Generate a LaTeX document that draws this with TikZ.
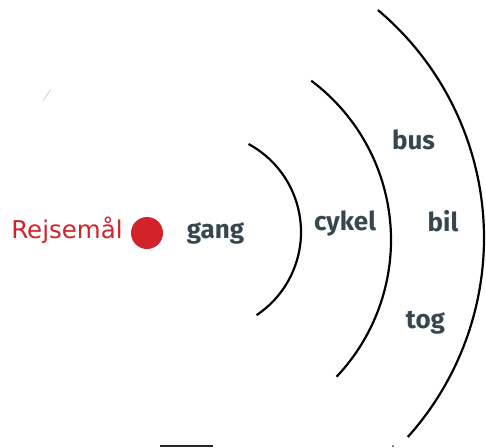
\documentclass[tikz,border=0pt]{standalone}
\usepackage{fontspec}
\setmainfont{Fira Sans}
\newfontfamily\destfont{DejaVu Sans}
\usetikzlibrary{positioning}
\definecolor{dotred}{HTML}{D2232A}
\definecolor{slate}{HTML}{37474F}
\begin{document}
\begin{tikzpicture}[x=1pt,y=1pt,node distance=8pt]

% Define styles
\tikzstyle{mode} = [text=slate, font=\fontsize{26}{30}\selectfont\bfseries, inner sep=0pt, anchor=base]
\tikzstyle{ring} = [line width=2.2pt, draw=black]

\useasboundingbox (0,0) rectangle (486,-447);

% Destination
\node[circle, fill=dotred, minimum size=32pt, inner sep=0pt] (dest) at (147,-233) {};
\node[left=of dest, anchor=base east, yshift=-5.3pt, text=dotred, font=\destfont\fontsize{24.5}{29}\selectfont, inner sep=0pt] (destLabel) {Rejsemål};

% Rings
\draw[ring] (201,-232) ++(61.6:100pt) arc[start angle=61.6, end angle=-56.2, radius=100pt];
\draw[ring] (192,-240) ++(53.2:199pt) arc[start angle=53.2, end angle=-43.4, radius=199pt];
\draw[ring] (186,-238) ++(49.9:298pt) arc[start angle=49.9, end angle=-41.9, radius=298pt];

% Transport modes
\node[mode] (gang) at (215.5,-238.3) {gang};
\node[mode] (cykel) at (345,-230) {cykel};
\node[mode] (bus) at (413.5,-149.3) {bus};
\node[mode] (bil) at (443,-231.7) {bil};
\node[mode] (tog) at (425.5,-328) {tog};

% Cut-off bits at the edges
\draw[black!85, line width=1.5pt] (160,-446) -- (213,-446);
\fill[black!80] (393,-446) circle (1pt);
\draw[black!15, line width=1pt] (43,-101) -- (51,-89);

\end{tikzpicture}
\end{document}
